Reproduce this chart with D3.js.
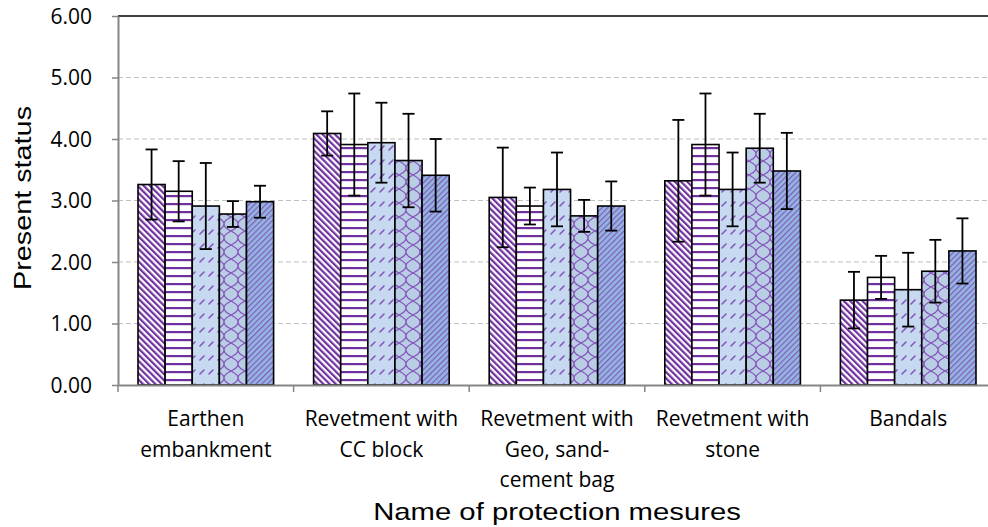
<!DOCTYPE html>
<html>
<head>
<meta charset="utf-8">
<script src="https://cdn.jsdelivr.net/npm/d3@7"></script>
<style>
  body { margin: 0; background: #fff; }
  svg { display: block; }
</style>
</head>
<body>
<div id="chart"></div>
<script>
const categories = ["Earthen embankment", "Revetment with CC block", "Revetment with Geo, sand-cement bag", "Revetment with stone", "Bandals"];
const catLines = [["Earthen", "embankment"], ["Revetment with", "CC block"], ["Revetment with", "Geo, sand-", "cement bag"], ["Revetment with", "stone"], ["Bandals"]];
const seriesNames = ["s1", "s2", "s3", "s4", "s5"];
// means per category, one array per series
const means = [
  [3.26, 4.09, 3.05, 3.32, 1.38],
  [3.15, 3.91, 2.91, 3.91, 1.75],
  [2.91, 3.94, 3.18, 3.18, 1.55],
  [2.78, 3.65, 2.75, 3.85, 1.85],
  [2.98, 3.41, 2.91, 3.48, 2.18]
];
const errs = [
  [0.57, 0.36, 0.81, 0.99, 0.46],
  [0.49, 0.83, 0.30, 0.83, 0.35],
  [0.70, 0.65, 0.60, 0.60, 0.60],
  [0.21, 0.76, 0.26, 0.56, 0.51],
  [0.26, 0.59, 0.40, 0.62, 0.53]
];
const yTicks = [0, 1, 2, 3, 4, 5, 6];

const W = 988, H = 527;
const mLeft = 118, mRight = 996, mTop = 16, mBottom = 385;

const svg = d3.select("#chart").append("svg")
    .attr("width", W).attr("height", H);

// fill patterns
const defs = svg.append("defs");
const purple = "#7030A0", purple2 = "#8555BD";

let p = defs.append("pattern").attr("id", "pat0").attr("patternUnits", "userSpaceOnUse")
    .attr("width", 4.4).attr("height", 4.4).attr("patternTransform", "rotate(-45)");
p.append("rect").attr("width", 4.4).attr("height", 4.4).attr("fill", "#fff");
p.append("rect").attr("width", 2.2).attr("height", 4.4).attr("fill", purple);

p = defs.append("pattern").attr("id", "pat1").attr("patternUnits", "userSpaceOnUse")
    .attr("width", 8).attr("height", 8);
p.append("rect").attr("width", 8).attr("height", 8).attr("fill", "#fff");
p.append("rect").attr("y", 3).attr("width", 8).attr("height", 2.2).attr("fill", purple);

p = defs.append("pattern").attr("id", "pat2").attr("patternUnits", "userSpaceOnUse")
    .attr("width", 9).attr("height", 14);
p.append("rect").attr("width", 9).attr("height", 14).attr("fill", "#C6D9F1");
p.append("path").attr("d", "M2,10 L6,6").attr("stroke", purple2).attr("stroke-width", 1.6).attr("stroke-linecap", "round");

p = defs.append("pattern").attr("id", "pat3").attr("patternUnits", "userSpaceOnUse")
    .attr("width", 14).attr("height", 14);
p.append("rect").attr("width", 14).attr("height", 14).attr("fill", "#B9CDE5");
p.append("path")
    .attr("d", "M0,0 C0,4 4,5 7,7 C4,9 0,10 0,14 M7,7 C10,5 14,4 14,0 M7,7 C10,9 14,10 14,14")
    .attr("fill", "none").attr("stroke", purple2).attr("stroke-width", 1.3);

p = defs.append("pattern").attr("id", "pat4").attr("patternUnits", "userSpaceOnUse")
    .attr("width", 4).attr("height", 4).attr("patternTransform", "rotate(45)");
p.append("rect").attr("width", 4).attr("height", 4).attr("fill", "#95B5DF");
p.append("rect").attr("width", 1.2).attr("height", 4).attr("fill", "#7E5CC0");

const x0 = d3.scaleBand().domain(categories).range([mLeft, mRight]);
const x1 = d3.scaleBand().domain(seriesNames).range([20, x0.bandwidth() - 20]);
const y = d3.scaleLinear().domain([0, 6]).range([mBottom, mTop]);

// grid
svg.append("g").selectAll("line")
    .data(yTicks.filter(d => d > 0 && d < 6))
    .enter().append("line")
    .attr("x1", mLeft).attr("x2", W)
    .attr("y1", d => y(d)).attr("y2", d => y(d))
    .attr("stroke", "#BFBFBF").attr("stroke-width", 1).attr("stroke-dasharray", "5,3");
svg.append("line")
    .attr("x1", mLeft).attr("x2", W).attr("y1", y(6)).attr("y2", y(6))
    .attr("stroke", "#000").attr("stroke-width", 1.5);

// bars
const flat = [];
seriesNames.forEach((s, si) => categories.forEach((c, ci) => {
  flat.push({ s: s, si: si, c: c, v: means[si][ci], e: errs[si][ci] });
}));

svg.append("g").selectAll("rect")
    .data(flat).enter().append("rect")
    .attr("x", d => x0(d.c) + x1(d.s))
    .attr("y", d => y(d.v))
    .attr("width", x1.bandwidth())
    .attr("height", d => y(0) - y(d.v))
    .attr("fill", d => `url(#pat${d.si})`)
    .attr("stroke", "#000").attr("stroke-width", 1.6);

// error bars
const eb = svg.append("g").attr("stroke", "#000").attr("stroke-width", 1.8);
const cx = d => x0(d.c) + x1(d.s) + x1.bandwidth() / 2;
eb.selectAll(".v").data(flat).enter().append("line")
    .attr("x1", cx).attr("x2", cx)
    .attr("y1", d => y(d.v + d.e)).attr("y2", d => y(d.v - d.e));
eb.selectAll(".t").data(flat).enter().append("line")
    .attr("x1", d => cx(d) - 6).attr("x2", d => cx(d) + 6)
    .attr("y1", d => y(d.v + d.e)).attr("y2", d => y(d.v + d.e));
eb.selectAll(".b").data(flat).enter().append("line")
    .attr("x1", d => cx(d) - 6).attr("x2", d => cx(d) + 6)
    .attr("y1", d => y(d.v - d.e)).attr("y2", d => y(d.v - d.e));

// y axis
const yAxis = svg.append("g")
    .attr("transform", `translate(${mLeft},0)`)
    .call(d3.axisLeft(y).tickValues(yTicks).tickFormat(d3.format(".2f")).tickSize(6).tickSizeOuter(0));
yAxis.select(".domain").attr("stroke", "#868686").attr("stroke-width", 2);
yAxis.selectAll(".tick line").attr("stroke", "#868686").attr("stroke-width", 1.5);
yAxis.selectAll(".tick text")
    .attr("x", -26).attr("dy", "0.35em")
    .attr("fill", "#000")
    .style("font-family", "'Open Sans', sans-serif").style("font-size", "21px");

// x axis
const xAxis = svg.append("g")
    .attr("transform", `translate(0,${mBottom})`)
    .call(d3.axisBottom(x0).tickSize(0).tickSizeOuter(0).tickFormat(""));
xAxis.select(".domain").attr("stroke", "#868686").attr("stroke-width", 2);
xAxis.selectAll(".bound")
    .data(categories).enter().append("line")
    .attr("x1", d => x0(d)).attr("x2", d => x0(d))
    .attr("y1", 0).attr("y2", 7)
    .attr("stroke", "#868686").attr("stroke-width", 1.5);

const lab = svg.append("g")
    .style("font-family", "'Open Sans', sans-serif").style("font-size", "21px")
    .attr("text-anchor", "middle");
categories.forEach((c, i) => {
  const t = lab.append("text")
      .attr("x", x0(c) + x0.bandwidth() / 2)
      .attr("y", 426);
  catLines[i].forEach((ln, k) => {
    t.append("tspan")
        .attr("x", x0(c) + x0.bandwidth() / 2)
        .attr("y", 426 + k * 30.5)
        .text(ln);
  });
});

svg.append("text")
    .attr("transform", "translate(557,520) scale(1.22,1)")
    .attr("text-anchor", "middle")
    .style("font-family", "'Liberation Sans', Arial, sans-serif").style("font-size", "24px")
    .text("Name of protection mesures");

svg.append("text")
    .attr("transform", "translate(31,198) rotate(-90) scale(1.2,1)")
    .attr("text-anchor", "middle")
    .style("font-family", "'Liberation Sans', Arial, sans-serif").style("font-size", "24px")
    .text("Present status");
</script>
</body>
</html>
